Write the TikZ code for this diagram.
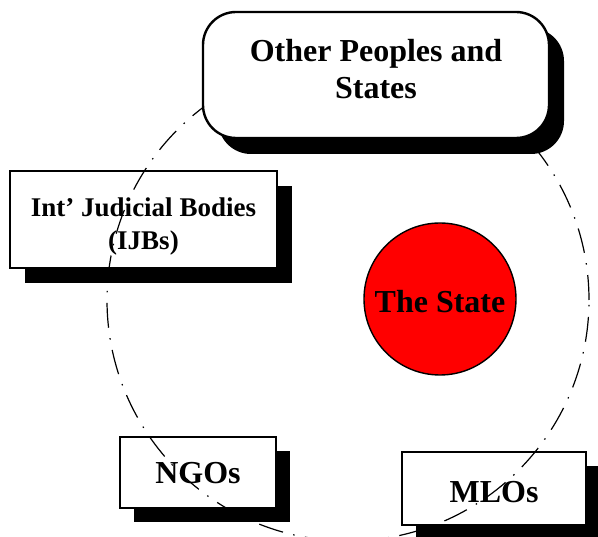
\documentclass[tikz,border=0pt]{standalone}
\usepackage{fontspec}
\setmainfont{Liberation Serif}
\usetikzlibrary{shadows}
\newcommand{\shiftup}[2]{\raisebox{#1}[\height][\depth]{#2}}
\tikzset{
  boxbase/.style={draw=black, line width=2.4pt, fill=white, align=center, inner sep=0pt,
    font=\fontsize{32}{37}\selectfont\bfseries},
  shadowbox/.style={boxbase, drop shadow={shadow xshift=#1pt, shadow yshift=-#1pt, fill=black, opacity=1}},
  smallbox/.style={shadowbox=14},
  statecircle/.style={circle, draw=black, line width=1.4pt, fill=red, inner sep=0pt,
    minimum size=152pt, font=\fontsize{32}{37}\selectfont\bfseries},
  orbit/.style={draw=black, line width=1.2pt, dash pattern=on 25pt off 10.5pt on 1.5pt off 10.5pt}
}
\begin{document}
\begin{tikzpicture}[x=1pt, y=-1pt]
  \useasboundingbox (0,0) rectangle (598,537);
  \clip (0,0) rectangle (598,537);
  % central state
  \node[statecircle] (state) at (440,299) {\shiftup{-3pt}{The State}};
  % small boxes
  \node[shadowbox=15, minimum width=267pt, minimum height=97pt,
        font=\fontsize{27}{33}\selectfont\bfseries] (ijb) at (143.5,219.5)
        {\shiftup{-7pt}{\begin{tabular}{@{}c@{}}Int’ Judicial Bodies\\(IJBs)\end{tabular}}};
  \node[smallbox, minimum width=156pt, minimum height=71pt] (ngo) at (198,472.5) {\shiftup{-1pt}{NGOs}};
  \node[smallbox, minimum width=184pt, minimum height=73pt] (mlo) at (494,488.5) {\shiftup{-4pt}{MLOs}};
  % orbit
  \coordinate (orbitc) at (348,300);
  \draw[orbit] (orbitc) circle[radius=241pt];
  % top box
  \node[boxbase, rounded corners=33pt, minimum width=346pt, minimum height=126pt,
        drop shadow={shadow xshift=15pt, shadow yshift=-16pt, fill=black, opacity=1}]
        (others) at (376,75)
        {\shiftup{2pt}{\begin{tabular}{@{}c@{}}Other Peoples and\\States\end{tabular}}};
\end{tikzpicture}
\end{document}
